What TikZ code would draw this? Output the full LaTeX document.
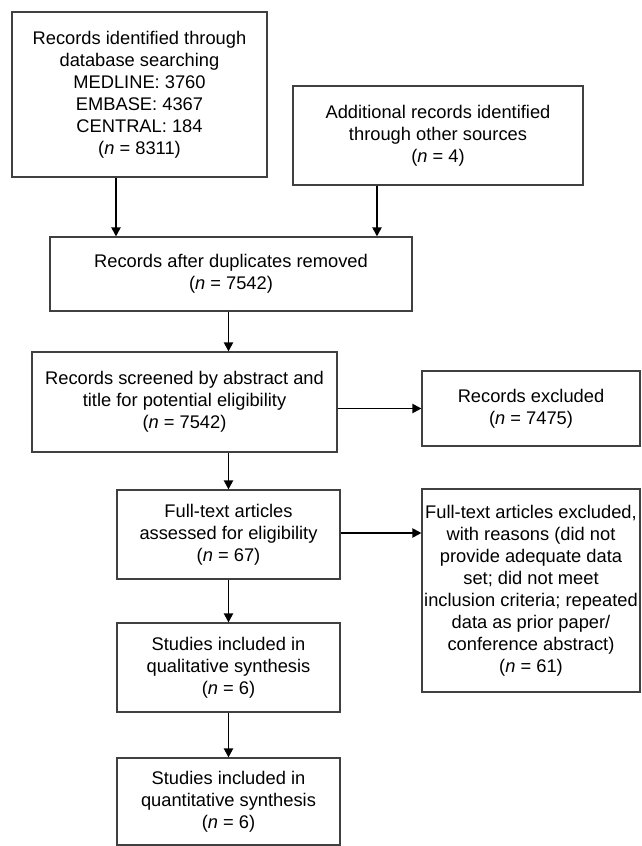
\documentclass[tikz,border=0pt]{standalone}
\usepackage{fontspec}
\setmainfont{Liberation Sans}
\usetikzlibrary{arrows.meta}
\tikzset{
  box/.style={draw=black!75, line width=1.1pt, inner sep=0pt, align=center,
    font=\fontsize{18.3}{22}\selectfont},
  arr/.style={line width=1.9pt, -{Triangle[length=9pt,width=9pt]}}
}
\newcommand{\nval}[1]{(\textit{n} = #1)}
\begin{document}
\begin{tikzpicture}[x=1pt,y=-1pt]
  \useasboundingbox (0,0) rectangle (641,846);
  % Draw boxes
  \node[box, minimum width=255, minimum height=165] (search) at (139.5,94.5)
    {Records identified through\\database searching\\MEDLINE: 3760\\EMBASE: 4367\\CENTRAL: 184\\\nval{8311}};
  \node[box, minimum width=290, minimum height=99] (other) at (438,135.5)
    {Additional records identified\\through other sources\\\nval{4}};
  \node[box, minimum width=362, minimum height=74] (dup) at (231,274)
    {Records after duplicates removed\\\nval{7542}};
  \node[box, minimum width=305, minimum height=100] (screen) at (184.5,402)
    {Records screened by abstract and\\title for potential eligibility\\\nval{7542}};
  \node[box, minimum width=218, minimum height=75] (excl) at (531,408.5)
    {Records excluded\\\nval{7475}};
  \node[box, minimum width=223, minimum height=89] (full) at (228.5,534.5)
    {Full-text articles\\assessed for eligibility\\\nval{67}};
  \node[box, minimum width=218, minimum height=203] (fullexcl) at (531,590.5)
    {Full-text articles excluded,\\with reasons (did not\\provide adequate data\\set; did not meet\\inclusion criteria; repeated\\data as prior paper/\\conference abstract)\\\nval{61}};
  \node[box, minimum width=223, minimum height=89] (qual) at (228.5,667.5)
    {Studies included in\\qualitative synthesis\\\nval{6}};
  \node[box, minimum width=223, minimum height=87] (quant) at (228.5,801.5)
    {Studies included in\\quantitative synthesis\\\nval{6}};
  % Draw arrows
  \draw[arr] ([xshift=-23.5pt]search.south) -- ([xshift=-23.5pt]search.south |- dup.north);
  \draw[arr] ([xshift=-61pt]other.south) -- ([xshift=-61pt]other.south |- dup.north);
  \draw[arr] (dup.south -| full.north) -- (screen.north -| full.north);
  \draw[arr] (screen.south -| full.north) -- (full.north);
  \draw[arr] (screen.east |- excl.west) -- (excl.west);
  \draw[arr] ([yshift=1.5pt]full.east) -- ([yshift=1.5pt]full.east -| fullexcl.west);
  \foreach \a/\b in {full/qual, qual/quant}
    \draw[arr] (\a.south) -- (\b.north);
\end{tikzpicture}
\end{document}
